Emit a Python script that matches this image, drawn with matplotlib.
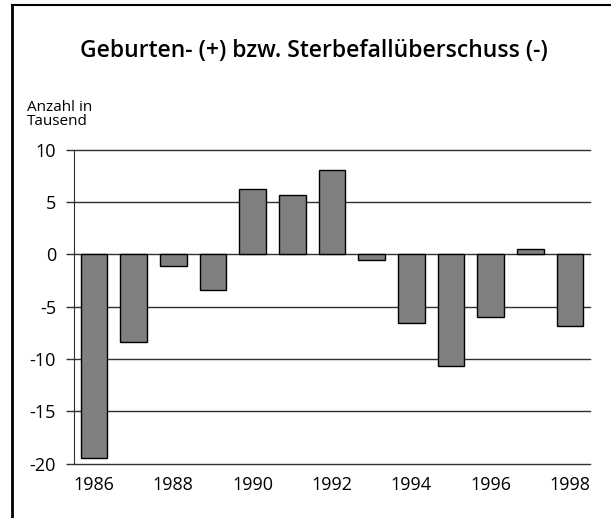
import numpy as np
from matplotlib import pyplot as plt
from matplotlib.lines import Line2D

years = [1986, 1987, 1988, 1989, 1990, 1991, 1992, 1993, 1994, 1995, 1996, 1997, 1998]
values = [-19.5, -8.4, -1.1, -3.4, 6.2, 5.7, 8.1, -0.5, -6.6, -10.7, -6.0, 0.5, -6.8]
yticks = [-20, -15, -10, -5, 0, 5, 10]

plt.rcParams['font.family'] = ['Open Sans', 'DejaVu Sans']

fig = plt.figure(figsize=(6.11, 5.18), dpi=100)
ax = fig.add_axes([74/611, 1-463.7/518, (590-74)/611, (463.7-149.7)/518])

x = np.arange(len(years))
ax.bar(x, values, width=0.67, color='#808080', edgecolor='black', linewidth=1, zorder=3)

ax.set_xlim(-0.5, len(years) - 0.5)
ax.set_ylim(-20, 10)
ax.set_yticks(yticks)
ax.set_yticklabels([str(t) for t in yticks])
ax.set_xticks(x[::2])
ax.set_xticklabels([str(y) for y in years[::2]])

for t in yticks:
    ax.axhline(t, color='#303030', linewidth=1, zorder=1, clip_on=False)

for s in ['top', 'right', 'bottom']:
    ax.spines[s].set_visible(False)
ax.spines['left'].set_color('#303030')
ax.tick_params(axis='y', length=6, width=1, color='#303030', labelsize=13, pad=7)
ax.tick_params(axis='x', length=0, labelsize=13, pad=9)

fig.text(0.514, 1-56.7/518, 'Geburten- (+) bzw. Sterbefallüberschuss (-)',
         ha='center', va='baseline', fontsize=16.5, fontweight='semibold')
fig.text(26.7/611, 1-110.7/518, 'Anzahl in', ha='left', va='baseline', fontsize=11)
fig.text(26.7/611, 1-125/518, 'Tausend', ha='left', va='baseline', fontsize=11)

# Rahmen (rechts und unten abgeschnitten)
fig.add_artist(Line2D([12/611, 12/611], [0, 1-5/518], color='black', linewidth=2, transform=fig.transFigure))
fig.add_artist(Line2D([12/611, 1], [1-5/518, 1-5/518], color='black', linewidth=1.5, transform=fig.transFigure))

plt.savefig('out.png', dpi=100)
